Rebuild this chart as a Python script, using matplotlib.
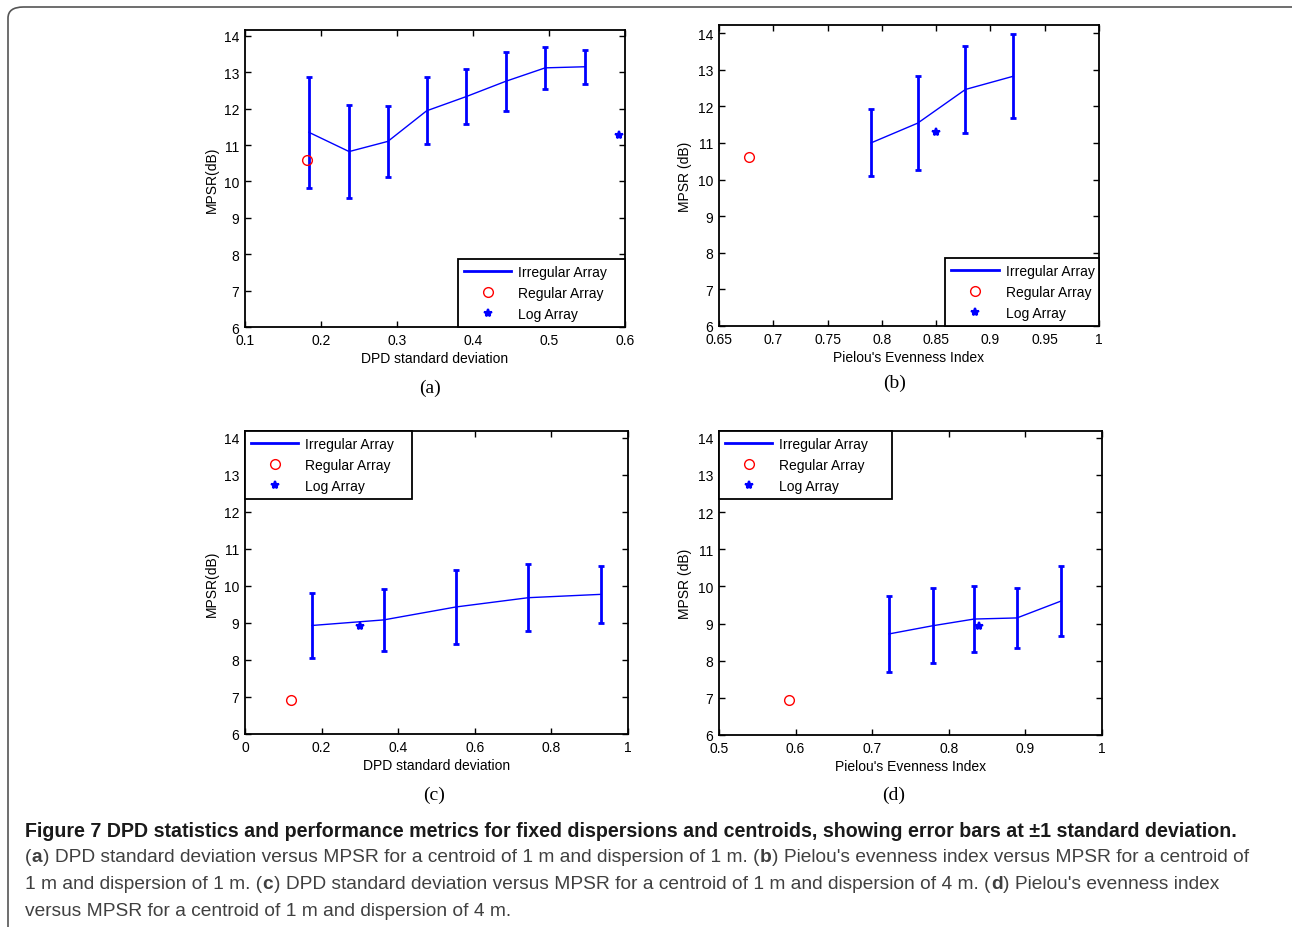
import matplotlib
matplotlib.use('Agg')
import matplotlib.pyplot as plt
from matplotlib.lines import Line2D
from matplotlib.patches import FancyBboxPatch

# dados
a_x = [0.184, 0.237, 0.288, 0.339, 0.391, 0.443, 0.495, 0.547]
a_mean = [11.35, 10.82, 11.10, 11.94, 12.33, 12.75, 13.12, 13.15]
a_std = [1.52, 1.28, 0.97, 0.92, 0.76, 0.81, 0.57, 0.47]
a_reg = (0.181, 10.60)
a_log = (0.592, 11.27)

b_x = [0.790, 0.833, 0.877, 0.921]
b_mean = [11.00, 11.54, 12.46, 12.82]
b_std = [0.915, 1.285, 1.19, 1.15]
b_reg = (0.678, 10.62)
b_log = (0.850, 11.29)

c_x = [0.175, 0.362, 0.551, 0.740, 0.929]
c_mean = [8.93, 9.08, 9.43, 9.68, 9.77]
c_std = [0.885, 0.84, 0.99, 0.90, 0.76]
c_reg = (0.120, 6.92)
c_log = (0.300, 8.92)

d_x = [0.722, 0.779, 0.833, 0.889, 0.946]
d_mean = [8.72, 8.94, 9.12, 9.15, 9.60]
d_std = [1.02, 1.015, 0.90, 0.815, 0.94]
d_reg = (0.591, 6.93)
d_log = (0.839, 8.93)

labels = ['Irregular Array', 'Regular Array', 'Log Array']

W, H = 1292, 928
fig = plt.figure(figsize=(W / 100, H / 100), dpi=100)
sans = ['Liberation Sans', 'DejaVu Sans']
serif = ['Liberation Serif', 'DejaVu Serif']


def px_axes(l, r, t, b):
    return fig.add_axes([l / W, (H - b) / H, (r - l) / W, (b - t) / H])


def painel(ax, x, m, s, reg, log, xlim, xticks, xtl, ytop, xlabel, ylabel,
           leg_loc, leg_box, sub, sub_xy):
    ax.errorbar(x, m, yerr=s, color='#0000ff', lw=1, elinewidth=2,
                capsize=2.5, capthick=2)
    ax.plot(reg[0], reg[1], 'o', mfc='none', mec='#ff0000', ms=7, mew=1)
    ax.plot(log[0], log[1], '*', color='#0000ff', ms=6, mew=1.5)
    ax.set_xlim(xlim)
    ax.set_ylim(6, ytop)
    ax.set_xticks(xticks)
    ax.set_xticklabels(xtl)
    ax.set_yticks(range(6, 15))
    ax.tick_params(direction='in', top=True, right=True, length=4, width=1,
                   labelsize=10, pad=4)
    for lab in ax.get_xticklabels() + ax.get_yticklabels():
        lab.set_family(sans)
    for sp in ax.spines.values():
        sp.set_linewidth(1.3)
    ax.set_xlabel(xlabel, family=sans, fontsize=10, labelpad=3)
    ax.set_ylabel(ylabel, family=sans, fontsize=10, labelpad=4)

    handles = [Line2D([], [], color='#0000ff', lw=2),
               Line2D([], [], ls='none', marker='o', mfc='none', mec='#ff0000', ms=7),
               Line2D([], [], ls='none', marker='*', color='#0000ff', ms=6, mew=1.5)]
    leg = ax.legend(handles, labels, loc=leg_loc, bbox_to_anchor=leg_box,
                    mode='expand', borderaxespad=0, fancybox=False,
                    edgecolor='black', framealpha=1, handlelength=3.4,
                    handletextpad=0.5, labelspacing=0.5, borderpad=0.45,
                    prop={'family': sans, 'size': 10})
    leg.get_frame().set_linewidth(1.3)
    fig.text(sub_xy[0] / W, 1 - sub_xy[1] / H, sub, family=serif, fontsize=14,
             ha='center', va='center')


ax_a = px_axes(245, 625, 31, 328)
painel(ax_a, a_x, a_mean, a_std, a_reg, a_log, (0.1, 0.6),
       [0.1, 0.2, 0.3, 0.4, 0.5, 0.6], ['0.1', '0.2', '0.3', '0.4', '0.5', '0.6'],
       14.16, 'DPD standard deviation', 'MPSR(dB)',
       'lower right', (0.56, 0, 0.44, 0.3), '(a)', (430, 388))

ax_b = px_axes(719, 1099, 26, 327)
painel(ax_b, b_x, b_mean, b_std, b_reg, b_log, (0.65, 1.0),
       [0.65, 0.7, 0.75, 0.8, 0.85, 0.9, 0.95, 1.0],
       ['0.65', '0.7', '0.75', '0.8', '0.85', '0.9', '0.95', '1'],
       14.22, "Pielou's Evenness Index", 'MPSR (dB)',
       'lower right', (0.595, 0, 0.405, 0.3), '(b)', (895, 383))

ax_c = px_axes(245, 628, 432, 735)
painel(ax_c, c_x, c_mean, c_std, c_reg, c_log, (0, 1),
       [0, 0.2, 0.4, 0.6, 0.8, 1.0], ['0', '0.2', '0.4', '0.6', '0.8', '1'],
       14.18, 'DPD standard deviation', 'MPSR(dB)',
       'upper left', (0, 1, 0.437, 0.0), '(c)', (434, 795))

ax_d = px_axes(719, 1102, 432, 736)
painel(ax_d, d_x, d_mean, d_std, d_reg, d_log, (0.5, 1.0),
       [0.5, 0.6, 0.7, 0.8, 0.9, 1.0], ['0.5', '0.6', '0.7', '0.8', '0.9', '1'],
       14.18, "Pielou's Evenness Index", 'MPSR (dB)',
       'upper left', (0, 1, 0.452, 0.0), '(d)', (894, 795))

# moldura arredondada
moldura = FancyBboxPatch((8 / W, -0.05), 1.1, 1 - 8 / H + 0.05,
                         boxstyle='round,pad=0,rounding_size=0.012',
                         transform=fig.transFigure, fill=False,
                         edgecolor='#555555', lw=1.2, clip_on=False)
fig.patches.append(moldura)

# legenda da figura, com letras em negrito
titulo = ('Figure 7 DPD statistics and performance metrics for fixed dispersions '
          'and centroids, showing error bars at \u00b11 standard deviation.')
linhas = [
    [('(', 'normal'), ('a', 'bold'),
     (') DPD standard deviation versus MPSR for a centroid of 1 m and dispersion of 1 m. (', 'normal'),
     ('b', 'bold'), (") Pielou's evenness index versus MPSR for a centroid of", 'normal')],
    [('1 m and dispersion of 1 m. (', 'normal'), ('c', 'bold'),
     (') DPD standard deviation versus MPSR for a centroid of 1 m and dispersion of 4 m. (', 'normal'),
     ('d', 'bold'), (") Pielou's evenness index", 'normal')],
    [('versus MPSR for a centroid of 1 m and dispersion of 4 m.', 'normal')],
]

renderer = fig.canvas.get_renderer()


def escreve(segs, y, size, color):
    x = 25
    txts = []
    for s, w in segs:
        t = fig.text(x / W, 1 - y / H, s, family=sans, weight=w,
                     fontsize=size, color=color, va='center')
        txts.append(t)
        x += t.get_window_extent(renderer).width + 0.5
    return txts, x - 25


# ajusta o tamanho para ocupar a mesma largura do original
tt, larg = escreve([(titulo, 'bold')], 832, 12, '#1a1a1a')
for t in tt:
    t.remove()
escreve([(titulo, 'bold')], 832, 12 * 1205 / larg, '#1a1a1a')

tt, larg = escreve(linhas[0], 858, 12, '#404040')
for t in tt:
    t.remove()
tam = 12 * 1225 / larg
for y, segs in zip([858, 885, 912], linhas):
    escreve(segs, y, tam, '#404040')

fig.savefig('out.png', dpi=100)
